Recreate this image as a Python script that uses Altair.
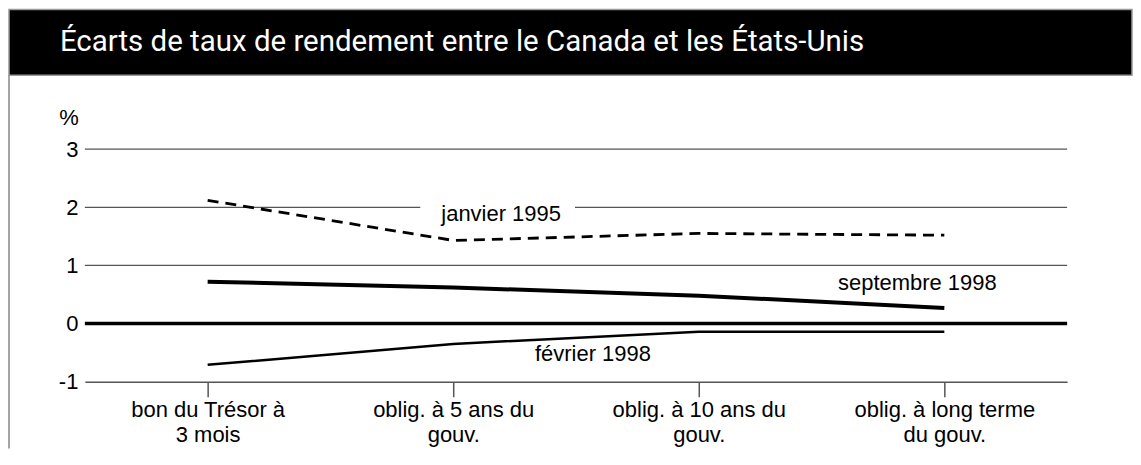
import altair as alt
import pandas as pd

categories = ["bon du Trésor à|3 mois", "oblig. à 5 ans du|gouv.",
              "oblig. à 10 ans du|gouv.", "oblig. à long terme|du gouv."]
janvier_1995 = [2.12, 1.43, 1.55, 1.52]
septembre_1998 = [0.72, 0.62, 0.48, 0.27]
fevrier_1998 = [-0.71, -0.35, -0.14, -0.14]
series_names = ["janvier 1995", "septembre 1998", "février 1998"]
grid_values = [3, 2, 1]

rows = []
for name, vals in zip(series_names, [janvier_1995, septembre_1998, fevrier_1998]):
    for c, v in zip(categories, vals):
        rows.append({"cat": c, "val": v, "serie": name})
df = pd.DataFrame(rows)

W, H = 984, 233
FONT = "Liberation Sans"
FS = 22

xscale = alt.Scale(type="point", padding=0.5, domain=categories)
yscale = alt.Scale(domain=[-1, 3], nice=False, zero=False)

xaxis = alt.Axis(title=None, labelExpr="split(datum.value, '|')", labelFont=FONT,
                 labelFontSize=FS, labelColor="black", labelLineHeight=25,
                 labelPadding=3, labelLimit=400, tickSize=15, tickColor="#555", tickWidth=1.5,
                 domainColor="#555", domainWidth=1.5, grid=False, labelAngle=0)
yaxis = alt.Axis(title=None, values=[-1, 0, 1, 2, 3], labelExpr="'' + datum.value",
                 labelFont=FONT, labelFontSize=FS,
                 labelColor="black", labelPadding=7, ticks=False,
                 domain=False, grid=False)

# decoration: title band, left border
band = alt.Chart(pd.DataFrame({"a": [0]})).mark_rect(
    color="black", stroke="#999", strokeWidth=1.5
).encode(x=alt.value(-76), x2=alt.value(1049), y=alt.value(-140), y2=alt.value(-74))

left_border = alt.Chart(pd.DataFrame({"a": [0]})).mark_rule(
    color="#888", strokeWidth=1.5
).encode(x=alt.value(-76), y=alt.value(-74), y2=alt.value(300))

title = alt.Chart(pd.DataFrame({"t": ["Écarts de taux de rendement entre le Canada et les États-Unis"]})).mark_text(
    font="Roboto", fontSize=29.5, fontWeight="normal", color="white", align="left", baseline="alphabetic"
).encode(x=alt.value(-25), y=alt.value(-98), text="t:N")

pct = alt.Chart(pd.DataFrame({"t": ["%"]})).mark_text(
    font=FONT, fontSize=FS, color="black", align="center", baseline="middle"
).encode(x=alt.value(-16), y=alt.value(-31), text="t:N")

grid = alt.Chart(pd.DataFrame({"v": grid_values})).mark_rule(
    color="#555", strokeWidth=1.3
).encode(y=alt.Y("v:Q", scale=yscale, axis=yaxis))

gap = alt.Chart(pd.DataFrame({"v": [2]})).mark_rule(
    color="white", strokeWidth=4
).encode(y=alt.Y("v:Q", scale=yscale), x=alt.value(336), x2=alt.value(491))

zero = alt.Chart(pd.DataFrame({"v": [0]})).mark_rule(
    color="black", strokeWidth=3.5
).encode(y=alt.Y("v:Q", scale=yscale))

base = alt.Chart(df).encode(
    x=alt.X("cat:N", scale=xscale, axis=xaxis, sort=categories),
    y=alt.Y("val:Q", scale=yscale),
)
l_jan = base.transform_filter(alt.datum.serie == "janvier 1995").mark_line(
    color="black", strokeWidth=2.8, strokeDash=[11, 7])
l_sep = base.transform_filter(alt.datum.serie == "septembre 1998").mark_line(
    color="black", strokeWidth=4)
l_fev = base.transform_filter(alt.datum.serie == "février 1998").mark_line(
    color="black", strokeWidth=2.5)

label_df = pd.DataFrame({
    "t": series_names,
    "y": [1.89, 0.69, -0.53],
    "px": [417, 834, 509],
})
labels = alt.Chart(label_df).mark_text(
    font=FONT, fontSize=FS, color="black", align="center", baseline="middle"
).encode(x=alt.X("px:Q", scale=None), y=alt.Y("y:Q", scale=yscale), text="t:N")

chart = alt.layer(
    band, left_border, title, pct, grid, gap, zero, l_jan, l_sep, l_fev, labels
).properties(
    width=W, height=H, padding=0, background="white"
).configure_view(stroke="transparent", strokeWidth=0)

chart.save("out.html", embed_options={"renderer": "svg", "actions": False})
